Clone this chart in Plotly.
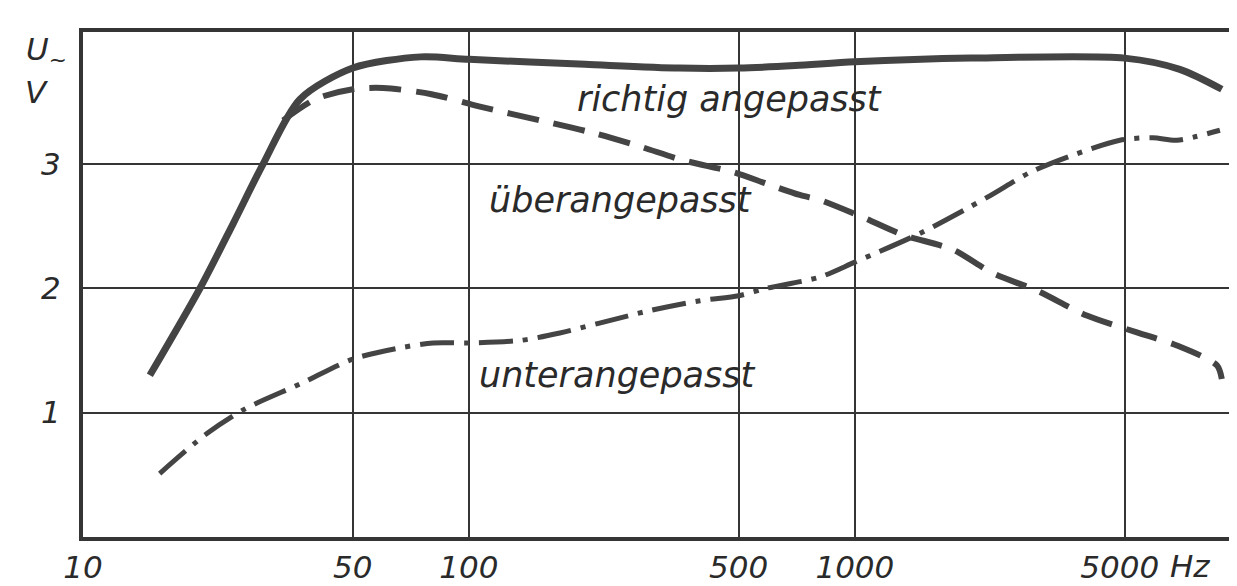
import plotly.graph_objects as go

# frequency (Hz) / voltage (V)
richtig_f = [14.9, 20.1, 24.5, 29.3, 36.5, 50, 75, 100, 200, 350, 500, 700, 1000, 2000, 5000, 6950, 8930]
richtig_u = [1.30, 2.00, 2.52, 3.00, 3.52, 3.77, 3.86, 3.84, 3.80, 3.77, 3.77, 3.79, 3.82, 3.85, 3.85, 3.76, 3.60]

ueber_f = [33, 40, 50, 60, 80, 106.8, 152.8, 209, 277, 358, 489, 591, 720, 811, 1050, 1331, 1795, 2279, 2964, 3990, 5380, 6830, 8670, 8930]
ueber_u = [3.35, 3.52, 3.60, 3.61, 3.56, 3.46, 3.35, 3.25, 3.14, 3.03, 2.93, 2.84, 2.75, 2.71, 2.57, 2.43, 2.31, 2.12, 1.98, 1.78, 1.645, 1.54, 1.38, 1.27]

unter_f = [15.8, 20.9, 26.3, 36.5, 50, 66.2, 80.8, 100, 135.5, 172, 218, 294, 397, 500, 591, 811, 1000, 1472, 2200, 2840, 3600, 4860, 5920, 6830, 8830]
unter_u = [0.51, 0.83, 1.03, 1.23, 1.43, 1.52, 1.56, 1.56, 1.58, 1.64, 1.72, 1.82, 1.90, 1.94, 2.00, 2.09, 2.21, 2.44, 2.73, 2.93, 3.06, 3.19, 3.21, 3.19, 3.27]

x_ticks = [10, 50, 100, 500, 1000, 5000]
x_labels = ["10", "50", "100", "500", "1000", "5000 "]
y_ticks = [1, 2, 3]

ink = "#353535"
tick_font = dict(family="DejaVu Sans", size=31, color="#2a2a2a", style="italic")
label_font = dict(family="DejaVu Sans", size=35, color="#2a2a2a", style="italic")

fig = go.Figure()

fig.add_trace(go.Scatter(
    x=richtig_f, y=richtig_u, mode="lines",
    line=dict(color="#444", width=7, shape="spline", smoothing=0.8),
    hoverinfo="skip"
))
fig.add_trace(go.Scatter(
    x=ueber_f, y=ueber_u, mode="lines",
    line=dict(color="#444", width=6, dash="32px,15px", shape="spline", smoothing=0.8),
    hoverinfo="skip"
))
fig.add_trace(go.Scatter(
    x=unter_f, y=unter_u, mode="lines",
    line=dict(color="#444", width=5, dash="34px,10px,5px,10px", shape="spline", smoothing=0.8),
    hoverinfo="skip"
))

fig.add_annotation(x=2.275, y=3.52, xref="x", yref="y", text="richtig angepasst",
                   showarrow=False, xanchor="left", font=label_font)
fig.add_annotation(x=2.047, y=2.71, xref="x", yref="y", text="überangepasst",
                   showarrow=False, xanchor="left", font=label_font)
fig.add_annotation(x=2.021, y=1.30, xref="x", yref="y", text="unterangepasst",
                   showarrow=False, xanchor="left", font=label_font)

# axis unit labels
fig.add_annotation(x=-0.032, y=0.962, xref="paper", yref="paper", text="U<sub>~</sub>",
                   showarrow=False, xanchor="center", yanchor="middle", font=tick_font)
fig.add_annotation(x=-0.040, y=0.881, xref="paper", yref="paper", text="V",
                   showarrow=False, xanchor="center", yanchor="middle", font=tick_font)
fig.add_annotation(x=0.961, y=-0.058, xref="paper", yref="paper", text="Hz",
                   showarrow=False, xanchor="center", yanchor="middle", font=tick_font)

# page body adds an 8px margin, so the figure is 8px smaller
fig.update_layout(
    width=1229, height=578,
    margin=dict(l=75, r=2, t=24, b=49),
    paper_bgcolor="white", plot_bgcolor="white",
    showlegend=False,
    xaxis=dict(
        type="log", range=[1, 3.985],
        tickvals=x_ticks, ticktext=x_labels,
        showgrid=True, gridcolor=ink, gridwidth=2,
        showline=True, mirror=True, linecolor=ink, linewidth=4,
        ticks="", tickfont=tick_font, ticklabelstandoff=0,
        zeroline=False, automargin=False,
    ),
    yaxis=dict(
        range=[0, 4.06],
        tickvals=y_ticks,
        showgrid=True, gridcolor=ink, gridwidth=2,
        showline=True, mirror=True, linecolor=ink, linewidth=4,
        ticks="", tickfont=tick_font, ticklabelstandoff=12,
        zeroline=False, automargin=False,
    ),
)

fig.write_html("out.html")
